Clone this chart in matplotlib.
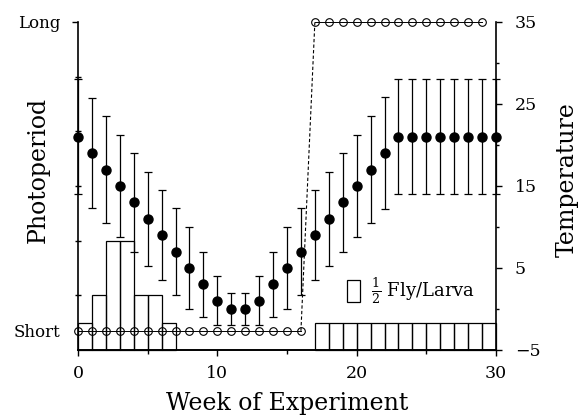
import numpy as np
import matplotlib
matplotlib.use('Agg')
import matplotlib.pyplot as plt
from matplotlib.patches import Patch

plt.rcParams['font.family'] = ['DejaVu Serif']
plt.rcParams['mathtext.fontset'] = 'dejavuserif'

# temperature (right axis), mean +/- spread per week
weeks = list(range(31))
temp_mean = [21, 19, 17, 15, 13, 11, 9, 7, 5, 3, 1, 0, 0, 1, 3, 5, 7,
             9, 11, 13, 15, 17, 19, 21, 21, 21, 21, 21, 21, 21, 21]
temp_err = [7, 6.7, 6.5, 6.2, 6, 5.7, 5.5, 5.3, 5, 4, 3, 2, 2, 3, 4, 5, 5.3,
            5.5, 5.7, 6, 6.2, 6.5, 6.8, 7, 7, 7, 7, 7, 7, 7, 7]

# photoperiod (left axis)
short_weeks = list(range(0, 17))
long_weeks = list(range(17, 30))
SHORT, LONG = 0.7, 12

# flies per larva histogram, in half-fly units
hist_left = [0, 1, 2, 3, 4, 5, 6] + list(range(17, 30))
hist_counts = [1, 2, 4, 4, 2, 2, 1] + [1] * 13

fig = plt.figure(figsize=(5.79, 4.17), dpi=100)
ax = fig.add_axes([78 / 579, 67 / 417, 418 / 579, 328 / 417])
ax2 = ax.twinx()

ax.bar(hist_left, hist_counts, width=1, align='edge', fill=False,
       edgecolor='black', linewidth=0.9, clip_on=False)
ax.plot(short_weeks, [SHORT] * len(short_weeks), '-o', color='black',
        lw=0.7, ms=5.5, mfc='none', mew=0.8, clip_on=False)
ax.plot(long_weeks, [LONG] * len(long_weeks), '-o', color='black',
        lw=0.7, ms=5.5, mfc='none', mew=0.8, clip_on=False)
ax.plot([short_weeks[-1], long_weeks[0]], [SHORT, LONG], color='black',
        lw=0.8, dashes=(3, 2), clip_on=False)

ax2.errorbar(weeks, temp_mean, yerr=temp_err, fmt='o', color='black',
             ms=6.5, elinewidth=0.9, capsize=2.6, capthick=0.9, clip_on=False)

ax.set_xlim(0, 30)
ax.set_ylim(0, 12)
ax2.set_ylim(-5, 35)

for a in (ax, ax2):
    a.spines['top'].set_visible(False)
    for s in a.spines.values():
        s.set_linewidth(1.2)
ax.spines['right'].set_visible(False)
ax2.spines['left'].set_visible(False)

ax.set_xticks([0, 10, 20, 30])
ax.set_xticks([5, 15, 25], minor=True)
ax.tick_params(axis='x', which='major', direction='out', length=4.5, width=1,
               labelsize=12.5, pad=6)
ax.tick_params(axis='x', which='minor', direction='out', length=3, width=1)

ax.set_yticks([SHORT, LONG], ['Short', 'Long'])
ax.set_yticks([2, 4, 6, 8, 10], minor=True)
ax.tick_params(axis='y', which='major', direction='out', length=4.5, width=1,
               labelsize=12, pad=8)
ax.tick_params(axis='y', which='minor', direction='inout', length=4, width=1)
ax.yaxis.get_major_ticks()[0].tick1line.set_visible(False)

ax2.set_yticks([-5, 5, 15, 25, 35])
ax2.set_yticks([0, 10, 20, 30], minor=True)
ax2.tick_params(axis='y', which='major', direction='out', length=4.5, width=1,
                labelsize=12.5, pad=9)
ax2.tick_params(axis='y', which='minor', direction='out', length=2.5, width=1)

ax.set_xlabel('Week of Experiment', fontsize=17)
ax.xaxis.set_label_coords(0.5, -0.128)
ax.set_ylabel('Photoperiod', fontsize=17)
ax.yaxis.set_label_coords(-0.068, 0.55)
ax2.set_ylabel('Temperature', fontsize=17)
ax2.yaxis.set_label_coords(1.143, 0.52)

ax.legend(handles=[Patch(facecolor='white', edgecolor='black', linewidth=0.9)],
          labels=[r'$\frac{1}{2}$ Fly/Larva'], frameon=False, fontsize=13,
          loc='center left', bbox_to_anchor=(19.3, 2.15),
          bbox_transform=ax.transData, borderpad=0, borderaxespad=0,
          handlelength=0.75, handleheight=1.5, handletextpad=0.6)

fig.savefig('out.png', dpi=100)
